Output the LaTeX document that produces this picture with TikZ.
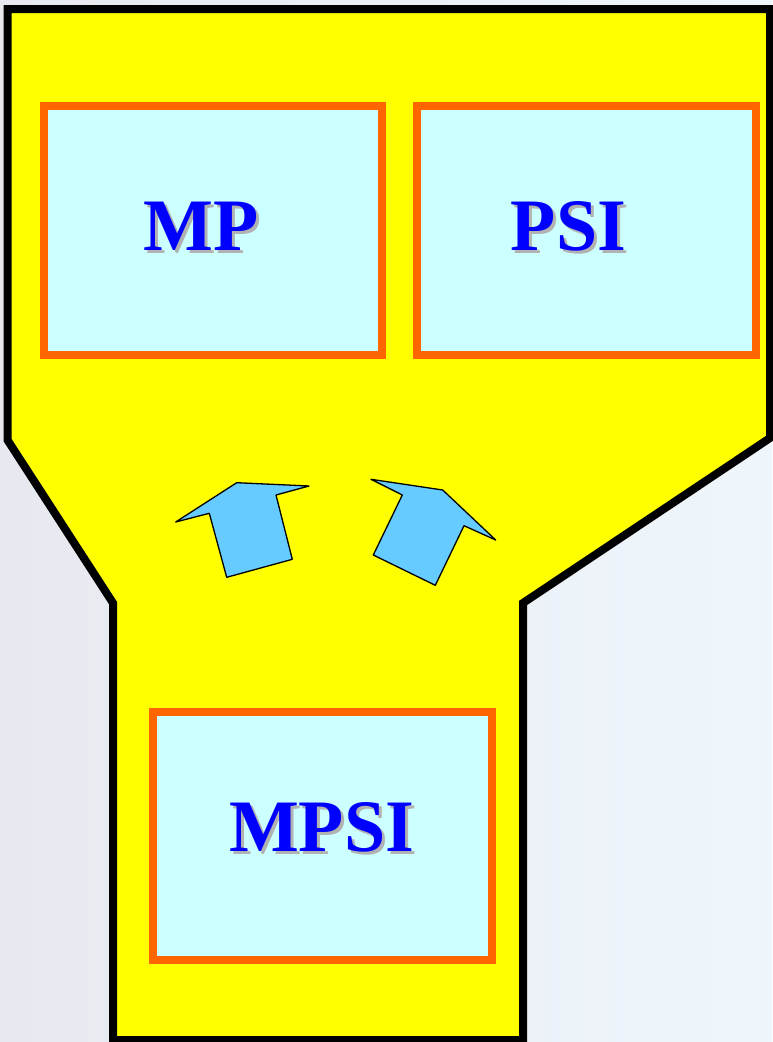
\documentclass[tikz,border=0pt]{standalone}
\usepackage{fontspec}
\setmainfont{Liberation Serif}
\usetikzlibrary{positioning}
\definecolor{bgleft}{RGB}{232,233,240}
\definecolor{bgright}{RGB}{238,246,252}
\definecolor{shapeyellow}{RGB}{255,255,0}
\definecolor{boxorange}{RGB}{255,102,0}
\definecolor{boxcyan}{RGB}{204,255,255}
\definecolor{arrowblue}{RGB}{102,204,255}
\definecolor{textblue}{RGB}{0,0,255}
\definecolor{shadowgray}{RGB}{178,178,178}
\newcommand{\shadowlabel}[1]{\makebox[0pt][l]{\hspace{3pt}\raisebox{-3pt}{\textcolor{shadowgray}{#1}}}\textcolor{textblue}{#1}}
\tikzset{
  subjbox/.style={draw=boxorange,fill=boxcyan,line width=8pt,minimum width=338.5pt,minimum height=248.5pt,inner sep=0pt},
  subjtext/.style={font=\fontsize{74}{74}\selectfont\bfseries,inner sep=0pt},
  blockarrow/.style={draw=black,fill=arrowblue,line width=1.3pt,line join=round}
}
\begin{document}
\begin{tikzpicture}[x=1pt,y=-1pt]
			\useasboundingbox (0,0) rectangle (772,1042);
			\fill[left color=bgleft,right color=bgright] (0,0) rectangle (772,1042);
			\draw[line width=8pt,fill=shapeyellow] (7.5,9) -- (770,9) -- (770,438) -- (523,603) -- (523,1040) -- (113,1040) -- (113,603) -- (7.5,440) -- cycle;
			\node[subjbox] (mp) at (212.75,230.25) {};
			\node[subjbox] (psi) at (586.5,230.25) {};
			\node[subjbox] (mpsi) at (322.5,836) {};
			\node[subjtext] (mptext) at ([xshift=-12pt,yshift=2pt]mp.center) {\shadowlabel{MP}};
			\node[subjtext] (psitext) at ([xshift=-18pt,yshift=2pt]psi.center) {\shadowlabel{PSI}};
			\node[subjtext] (mpsitext) at ([xshift=-1pt,yshift=7pt]mpsi.center) {\shadowlabel{MPSI}};
			\draw[blockarrow] (236.7,482.7) -- (309,486) -- (276,495) -- (292.3,559.3) -- (226.7,577.3) -- (209.3,513.3) -- (175.7,522) -- cycle;
			\draw[blockarrow] (371,479.3) -- (442.7,490) -- (495.7,540) -- (464,525.7) -- (435.3,585.3) -- (373.3,555) -- (402.3,495) -- cycle;
		\end{tikzpicture}
\end{document}
